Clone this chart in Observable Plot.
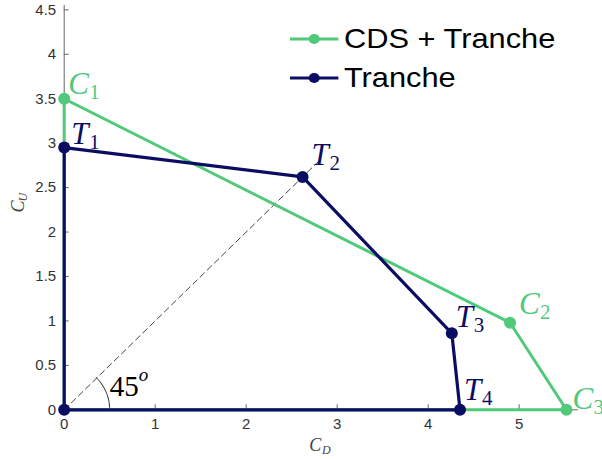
<!DOCTYPE html>
<html>
<head>
<meta charset="utf-8">
<script src="https://cdn.jsdelivr.net/npm/d3@7"></script>
<script src="https://cdn.jsdelivr.net/npm/@observablehq/plot@0.6"></script>
<style>
  html, body { margin: 0; padding: 0; background: #fff; }
  #wrap { position: relative; width: 602px; height: 459px; overflow: hidden; }
  .legend { position: absolute; left: 290px; display: flex; align-items: center; height: 32px;
            font-family: "Liberation Sans", Arial, sans-serif; font-size: 28px; color: #000;
            transform: scaleX(1.1); transform-origin: left center; white-space: nowrap; }
  .legend svg { margin-right: 3px; }
</style>
</head>
<body>
<div id="wrap"></div>
<script>
// Vertices of the CDS + Tranche region (C1..C3)
const cdsLabels = ["C", "C", "C"];
const cdsSubs = ["1", "2", "3"];
const cdsX = [0, 4.90, 5.52];
const cdsY = [3.5, 0.98, 0];

// Vertices of the Tranche-only region (T1..T4)
const trancheLabels = ["T", "T", "T", "T"];
const trancheSubs = ["1", "2", "3", "4"];
const trancheX = [0, 2.62, 4.26, 4.35];
const trancheY = [2.95, 2.62, 0.86, 0];

// Both regions start and close at the origin
const originX = 0;
const originY = 0;

// 45-degree guide line and angle marker
const diagonalEnd = 2.8;
const angleRadius = 0.5;
const angleLabel = "45";

const xTicks = [0, 1, 2, 3, 4, 5];
const yTicks = [0, 0.5, 1, 1.5, 2, 2.5, 3, 3.5, 4, 4.5];

const green = "#50c97b";
const navy = "#0b0d63";

const cdsPts = cdsX.map((x, i) => ({x, y: cdsY[i], letter: cdsLabels[i], sub: cdsSubs[i]}));
const tranchePts = trancheX.map((x, i) => ({x, y: trancheY[i], letter: trancheLabels[i], sub: trancheSubs[i]}));
const origin = {x: originX, y: originY};
const cdsPath = [origin, ...cdsPts, origin];
const tranchePath = [origin, ...tranchePts, origin];

// label offsets (pixels) for the vertex names
const cdsOffsets = [[4, -5], [9, -9], [6, -1]];
const trancheOffsets = [[7, -4], [9, -12], [4, -6], [4, -10]];
cdsPts.forEach((d, i) => { d.dx = cdsOffsets[i][0]; d.dy = cdsOffsets[i][1]; });
tranchePts.forEach((d, i) => { d.dx = trancheOffsets[i][0]; d.dy = trancheOffsets[i][1]; });

const diagonal = [{x: 0, y: 0}, {x: diagonalEnd, y: diagonalEnd}];
const arc = d3.range(0, 45.5, 1.5).map(a => ({
  x: angleRadius * Math.cos(a * Math.PI / 180),
  y: angleRadius * 91 / 89 * Math.sin(a * Math.PI / 180)
}));

const serif = "'Liberation Serif', 'Times New Roman', serif";
const sans = "'Liberation Sans', Arial, sans-serif";

// places each vertex name (italic letter + upright subscript) beside its point
function vertexLabels(pts, color) {
  const place = (extraX, extraY) => (index, scales, values, dims, ctx, next) => {
    const g = next(index, scales, values, dims, ctx);
    d3.select(g).selectAll("text").each(function (_, j) {
      const i = index[j];
      const d = pts[i];
      const sx = typeof extraX === "function" ? extraX(d) : extraX;
      this.setAttribute("transform", `translate(${values.x[i] + d.dx + sx},${values.y[i] + d.dy + extraY})`);
    });
    return g;
  };
  return [
    Plot.text(pts, {x: "x", y: "y", text: "letter", fill: color,
      fontFamily: serif, fontStyle: "italic", fontSize: 31, textAnchor: "start", lineAnchor: "bottom",
      render: place(0, 0)}),
    Plot.text(pts, {x: "x", y: "y", text: "sub", fill: color,
      fontFamily: serif, fontSize: 21, textAnchor: "start", lineAnchor: "bottom",
      render: place(d => d.letter === "C" ? 21 : 18, 5)})
  ];
}

const chart = Plot.plot({
  width: 602,
  height: 459,
  marginLeft: 63.7,
  marginRight: 24.2,
  marginTop: 4.9,
  marginBottom: 49.7,
  style: {background: "white", overflow: "visible"},
  x: {domain: [0, 5.65], label: null},
  y: {domain: [0, 4.55], label: null},
  marks: [
    Plot.ruleX([0], {stroke: "#666", strokeWidth: 1}),
    Plot.ruleY([0], {stroke: "#666", strokeWidth: 1}),
    Plot.axisX({ticks: xTicks, tickSize: -5, tickPadding: 14, fontSize: 15, fontFamily: sans,
      color: "#333", stroke: "#666", label: null, tickFormat: d => String(d)}),
    Plot.axisY({ticks: yTicks, tickSize: -5, tickPadding: 13, fontSize: 15, fontFamily: sans,
      color: "#333", stroke: "#666", label: null, tickFormat: d => String(d)}),
    Plot.line(diagonal, {x: "x", y: "y", stroke: "#444", strokeWidth: 1, strokeDasharray: "6,4"}),
    Plot.line(arc, {x: "x", y: "y", stroke: "#222", strokeWidth: 1}),
    Plot.line(cdsPath, {x: "x", y: "y", stroke: green, strokeWidth: 3}),
    Plot.dot(cdsPts, {x: "x", y: "y", r: 6, fill: green}),
    Plot.line(tranchePath, {x: "x", y: "y", stroke: navy, strokeWidth: 3.2}),
    Plot.dot([origin, ...tranchePts], {x: "x", y: "y", r: 6, fill: navy}),
    ...vertexLabels(cdsPts, green),
    ...vertexLabels(tranchePts, navy),
    // angle annotation
    Plot.text([angleLabel], {x: angleRadius, y: 0, text: d => d, dx: 0, dy: -14, fontFamily: serif,
      fontSize: 29, fill: "#000", textAnchor: "start", lineAnchor: "bottom"}),
    Plot.text(["o"], {x: angleRadius, y: 0, text: d => d, dx: 29, dy: -29, fontFamily: serif,
      fontStyle: "italic", fontSize: 19, fill: "#000", textAnchor: "start", lineAnchor: "bottom"}),
    // axis titles
    Plot.text(["C"], {frameAnchor: "bottom", text: d => d, dx: -6, dy: 41, fontFamily: serif,
      fontStyle: "italic", fontSize: 18, fill: "#444", lineAnchor: "bottom"}),
    Plot.text(["D"], {frameAnchor: "bottom", text: d => d, dx: 5, dy: 44, fontFamily: serif,
      fontStyle: "italic", fontSize: 12, fill: "#444", lineAnchor: "bottom"}),
    Plot.text(["C"], {frameAnchor: "left", text: d => d, dx: -40, dy: 5, rotate: -90, fontFamily: serif,
      fontStyle: "italic", fontSize: 18, fill: "#444", lineAnchor: "bottom"}),
    Plot.text(["U"], {frameAnchor: "left", text: d => d, dx: -37, dy: -6, rotate: -90, fontFamily: serif,
      fontStyle: "italic", fontSize: 12, fill: "#444", lineAnchor: "bottom"})
  ]
});

const wrap = document.getElementById("wrap");
wrap.appendChild(chart);

// legend drawn over the upper-right of the plot
const legendItems = [
  {label: "CDS + Tranche", color: green, top: 23},
  {label: "Tranche", color: navy, top: 62}
];
for (const item of legendItems) {
  const row = document.createElement("div");
  row.className = "legend";
  row.style.top = item.top + "px";
  row.innerHTML = `<svg width="46" height="14"><line x1="0" x2="44" y1="7" y2="7" stroke="${item.color}" stroke-width="3"/><circle cx="22" cy="7" r="5" fill="${item.color}"/></svg><span>${item.label}</span>`;
  wrap.appendChild(row);
}
</script>
</body>
</html>
